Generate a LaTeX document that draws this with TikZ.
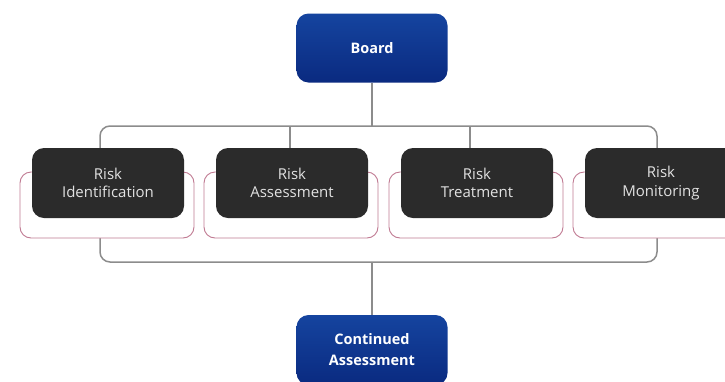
\documentclass[tikz,border=0pt]{standalone}
\usepackage{fontspec}
\setmainfont{Open Sans}
\begin{document}
\begin{tikzpicture}[x=1pt,y=-1pt,
  stage/.style={draw=none, fill=darkbox, rounded corners=12pt, minimum width=152pt, minimum height=70pt,
    text=boxtext, align=center, font=\fontsize{15}{18.5}\selectfont, inner sep=0pt},
  bluebox/.style={draw=none, rounded corners=12pt, minimum width=151pt, minimum height=69pt,
    top color=bluetop, bottom color=bluebot, text=white, align=center,
    font=\fontsize{14.5}{21}\selectfont\bfseries, inner sep=0pt},
  conn/.style={draw=linegray, line width=1.5pt},
  pinkframe/.style={draw=pinkline, line width=0.9pt, fill=white, rounded corners=11pt}]
\definecolor{darkbox}{HTML}{2B2B2B}
\definecolor{boxtext}{HTML}{E2E2E2}
\definecolor{bluetop}{HTML}{15449F}
\definecolor{bluebot}{HTML}{0A2A80}
\definecolor{linegray}{HTML}{8C8C8C}
\definecolor{pinkline}{HTML}{C07A92}
\useasboundingbox (0,0) rectangle (725,381);
\clip (0,0) rectangle (725,381);
% frame behind the stages
\draw[conn, rounded corners=10pt] (100,126) rectangle (657,262);
\coordinate (t2) at (290,126);
\coordinate (t3) at (470,126);
\coordinate (top) at (372,126);
\coordinate (bot) at (372,262);
% pink frames
\foreach \cx in {108,292,477,661} {
  \draw[pinkframe] (\cx-88,172) rectangle (\cx+86,238);
}
% stages
\node[stage] (ri) at (108,183) {Risk\\Identification};
\node[stage] (ra) at (292,183) {Risk\\Assessment};
\node[stage] (rt) at (477,183) {Risk\\Treatment};
\node[stage] (rm) at (661,183) {Risk\\Monitoring};
% blue boxes
\node[bluebox] (board) at (372,48) {Board};
\node[bluebox, minimum height=70pt] (cont) at (372,350) {Continued\\Assessment};
% connectors
\draw[conn] (board.south) -- (top);
\draw[conn] (bot) -- (cont.north);
\draw[conn] (t2) -- (t2 |- ra.north);
\draw[conn] (t3) -- (t3 |- rt.north);
\end{tikzpicture}
\end{document}
